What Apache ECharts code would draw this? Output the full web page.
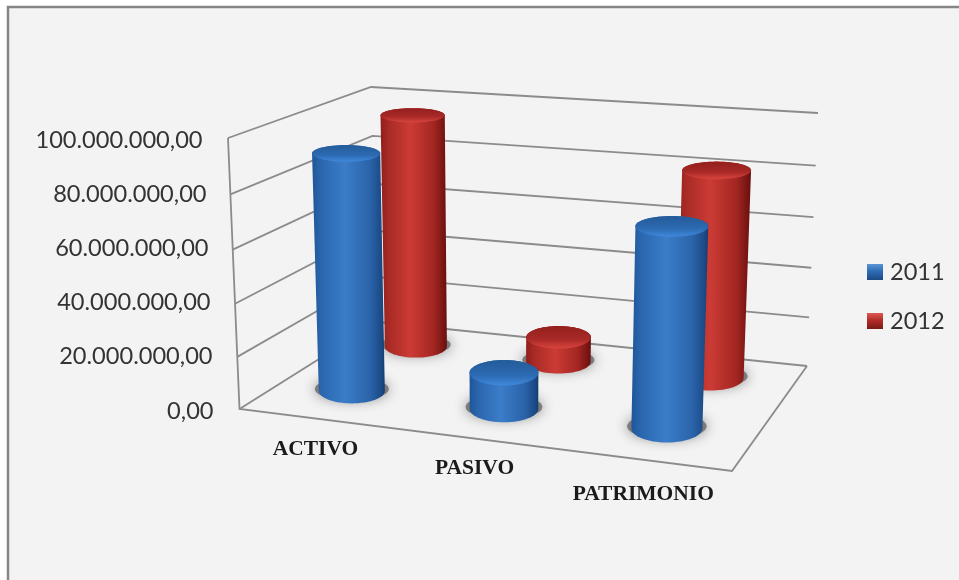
<!DOCTYPE html>
<html>
<head>
<meta charset="utf-8">
<style>html,body{margin:0;padding:0;background:#fff}#chart{width:959px;height:580px}</style>
<script src="https://cdn.jsdelivr.net/npm/echarts@6/dist/echarts.min.js"></script>
</head>
<body>
<div id="chart"></div>
<script>
const categories = ['ACTIVO', 'PASIVO', 'PATRIMONIO'];
const seriesNames = ['2011', '2012'];
const values2011 = [90600000, 14000000, 74200000];
const values2012 = [94500000, 10200000, 81400000];
const yTicks = [0, 20000000, 40000000, 60000000, 80000000, 100000000];
const tickLabels = ['0,00', '20.000.000,00', '40.000.000,00', '60.000.000,00', '80.000.000,00', '100.000.000,00'];

// Chart box corners on screen: floor plane and plane at the axis maximum.
const FLOOR = [[239.5, 409], [732, 471], [807, 366], [378, 322]];
const CEILING = [[228, 138], [742, 182], [818, 113], [371, 87]];
const AXIS_MAX = 100000000;
const PERSPECTIVE_K = 1.05;
const DEPTHS = { '2011': 0.275, '2012': 0.775 };
const RADII = { '2011': 33, '2012': 31 };

function homography(q) {
  const [[x0, y0], [x1, y1], [x2, y2], [x3, y3]] = q;
  const dx1 = x1 - x2, dx2 = x3 - x2, sx = x0 - x1 + x2 - x3;
  const dy1 = y1 - y2, dy2 = y3 - y2, sy = y0 - y1 + y2 - y3;
  const den = dx1 * dy2 - dx2 * dy1;
  const g = (sx * dy2 - dx2 * sy) / den, h = (dx1 * sy - sx * dy1) / den;
  const a = x1 - x0 + g * x1, b = x3 - x0 + h * x3;
  const d = y1 - y0 + g * y1, e = y3 - y0 + h * y3;
  return (u, v) => {
    const w = g * u + h * v + 1;
    return [(a * u + b * v + x0) / w, (d * u + e * v + y0) / w];
  };
}
const floorMap = homography(FLOOR);
const ceilingMap = homography(CEILING);

function project(u, d, t) {
  const p = floorMap(u, d), q = ceilingMap(u, d);
  const s = t / (t + (1 - t) * PERSPECTIVE_K);
  return [p[0] + (q[0] - p[0]) * s, p[1] + (q[1] - p[1]) * s];
}

function heightFraction(api, v) {
  const y0 = api.coord([0, 0])[1], y1 = api.coord([0, AXIS_MAX])[1];
  return (y0 - api.coord([0, v])[1]) / (y0 - y1);
}

// Disc of a cylinder at height t: flat on screen, seen more edge-on higher up.
function disc(u, name, t) {
  const d = DEPTHS[name];
  const base = project(u, d, 0), p = project(u, d, t);
  const cx = base[0] - 2.5 + (base[0] - 510) * (base[1] - p[1]) / 6500;
  const rx = RADII[name] + 2.5 * (u - 1 / 6) / (2 / 3) + 1.2 * t;
  const ry = rx * (0.16 + 0.00056 * p[1]);
  return { cx, cy: p[1], rx, ry };
}

function ring(e) {
  const pts = [];
  for (let i = 0; i < 64; i++) {
    const a = i / 64 * Math.PI * 2;
    pts.push([e.cx + Math.cos(a) * e.rx, e.cy + Math.sin(a) * e.ry]);
  }
  return pts;
}

function hull(points) {
  const pts = points.slice().sort((a, b) => a[0] - b[0] || a[1] - b[1]);
  const cross = (o, a, b) => (a[0] - o[0]) * (b[1] - o[1]) - (a[1] - o[1]) * (b[0] - o[0]);
  const lower = [], upper = [];
  for (const p of pts) {
    while (lower.length > 1 && cross(lower[lower.length - 2], lower[lower.length - 1], p) <= 0) lower.pop();
    lower.push(p);
  }
  for (const p of pts.slice().reverse()) {
    while (upper.length > 1 && cross(upper[upper.length - 2], upper[upper.length - 1], p) <= 0) upper.pop();
    upper.push(p);
  }
  return lower.slice(0, -1).concat(upper.slice(0, -1));
}

const grad = (horizontal, stops) => new echarts.graphic.LinearGradient(
  0, 0, horizontal ? 1 : 0, horizontal ? 0 : 1,
  stops.map(s => ({ offset: s[0], color: s[1] })));

const PALETTE = {
  '2011': {
    solid: '#2f6db8',
    body: [[0, '#1f5596'], [0.12, '#2a66ae'], [0.45, '#3b7dc9'], [0.8, '#2a63a9'], [0.95, '#1b4a86'], [1, '#153d70']],
    top: [[0, '#245b99'], [0.6, '#2c6ab2'], [1, '#4089dc']],
    legend: [[0, '#5c95d6'], [0.45, '#2f6cb6'], [1, '#1b4a84']]
  },
  '2012': {
    solid: '#b32d29',
    body: [[0, '#8f1f1b'], [0.12, '#a82a25'], [0.45, '#cc3b35'], [0.8, '#a32622'], [0.95, '#781512'], [1, '#641010']],
    top: [[0, '#931f1d'], [0.6, '#a92a27'], [1, '#da443e']],
    legend: [[0, '#dc5a54'], [0.45, '#b22d29'], [1, '#7a1a17']]
  }
};

function cylinderSeries(name, values, z) {
  const pal = PALETTE[name];
  return {
    name, type: 'custom', coordinateSystem: 'cartesian2d', z,
    itemStyle: { color: pal.solid },
    encode: { x: 0, y: 1 },
    data: values.map((v, i) => [categories[i], v]),
    renderItem(params, api) {
      const u = (params.dataIndex + 0.5) / categories.length;
      const t = heightFraction(api, api.value(1));
      const base = disc(u, name, 0), lid = disc(u, name, t);
      return {
        type: 'group',
        children: [
          {
            type: 'ellipse',
            shape: { cx: base.cx, cy: base.cy - 2, rx: base.rx * 1.12, ry: base.ry * 0.92 },
            style: { fill: 'rgba(90,90,90,0.7)', shadowBlur: 13, shadowColor: 'rgba(60,60,60,0.85)' }
          },
          { type: 'polygon', shape: { points: hull(ring(base).concat(ring(lid))) }, style: { fill: grad(true, pal.body) } },
          { type: 'polygon', shape: { points: ring(lid) }, style: { fill: grad(false, pal.top) } }
        ]
      };
    }
  };
}

// Gridlines on the left and back walls, one polyline per tick.
const gridLineSeries = {
  type: 'custom', coordinateSystem: 'cartesian2d', z: 1, silent: true,
  encode: { x: 0, y: 1 },
  data: yTicks.map(v => [categories[0], v]),
  renderItem(params, api) {
    const t = heightFraction(api, api.value(1));
    return {
      type: 'polyline',
      shape: { points: [project(0, 0, t), project(0, 1, t), project(1, 1, t)] },
      style: { stroke: '#8b8b8b', lineWidth: 1.8, fill: 'none' }
    };
  }
};

// Left upright and the two front edges of the floor.
const frameSeries = {
  type: 'custom', coordinateSystem: 'cartesian2d', z: 1, silent: true,
  encode: { x: 0, y: 1 },
  data: [[categories[0], AXIS_MAX]],
  renderItem() {
    return {
      type: 'polyline',
      shape: { points: [project(0, 0, 1), project(0, 0, 0), project(1, 0, 0), project(1, 1, 0)] },
      style: { stroke: '#8b8b8b', lineWidth: 1.8, fill: 'none' }
    };
  }
};

// Category names sit below the front floor edge.
const LABEL_SHIFT = [[1, 31], [2, 30], [1, 35]];
const categoryLabelSeries = {
  type: 'custom', coordinateSystem: 'cartesian2d', z: 6, silent: true,
  encode: { x: 0, y: 1 },
  data: categories.map(c => [c, 0]),
  renderItem(params) {
    const i = params.dataIndex;
    const p = project((i + 0.5) / categories.length, 0, 0);
    return {
      type: 'text',
      style: {
        x: p[0] + LABEL_SHIFT[i][0], y: p[1] + LABEL_SHIFT[i][1],
        text: categories[i], align: 'center', verticalAlign: 'middle',
        font: 'bold 21.5px "Liberation Serif"', fill: '#1a1a1a'
      }
    };
  }
};

// Tick labels follow the slanted upright, so each gets its own right padding.
const LABEL_PAD = { '0,00': 0, '20.000.000,00': 1, '40.000.000,00': 3, '60.000.000,00': 5, '80.000.000,00': 7, '100.000.000,00': 11 };
const labelByValue = {};
yTicks.forEach((v, i) => { labelByValue[v] = tickLabels[i]; });
const labelRich = {};
tickLabels.forEach((l, i) => {
  labelRich['t' + i] = { padding: [4, LABEL_PAD[l], 0, 0], fontFamily: 'Lato', fontSize: 23.6, color: '#333' };
});

const option = {
  backgroundColor: '#ffffff',
  animation: false,
  textStyle: { fontFamily: 'Lato' },
  graphic: [{
    type: 'rect', z: -10, silent: true,
    shape: { x: 8, y: 7, width: 980, height: 600 },
    style: { fill: '#f3f3f3', stroke: '#868686', lineWidth: 2.5 }
  }],
  grid: { left: 239.5, right: 152, top: 138, bottom: 171 },
  xAxis: {
    type: 'category', data: categories,
    axisLine: { show: false }, axisTick: { show: false }, axisLabel: { show: false }, splitLine: { show: false }
  },
  yAxis: {
    type: 'value', min: 0, max: AXIS_MAX, interval: 20000000,
    axisLine: { show: false }, axisTick: { show: false }, splitLine: { show: false },
    axisLabel: {
      margin: 26, align: 'right',
      formatter: v => `{t${yTicks.indexOf(v)}|${labelByValue[v]}}`,
      rich: labelRich
    }
  },
  legend: {
    orient: 'vertical', left: 867, top: 260, padding: 0, itemWidth: 16, itemHeight: 16, itemGap: 25,
    selectedMode: false,
    textStyle: { fontFamily: 'Lato', fontSize: 23.6, lineHeight: 24, color: '#333', padding: [0, 0, 0, 2] },
    data: seriesNames.map(n => ({ name: n, icon: 'rect', itemStyle: { color: grad(false, PALETTE[n].legend) } }))
  },
  series: [
    gridLineSeries,
    frameSeries,
    cylinderSeries('2012', values2012, 3),
    cylinderSeries('2011', values2011, 4),
    categoryLabelSeries
  ]
};

echarts.init(document.getElementById('chart'), null, { renderer: 'canvas' }).setOption(option);
</script>
</body>
</html>
